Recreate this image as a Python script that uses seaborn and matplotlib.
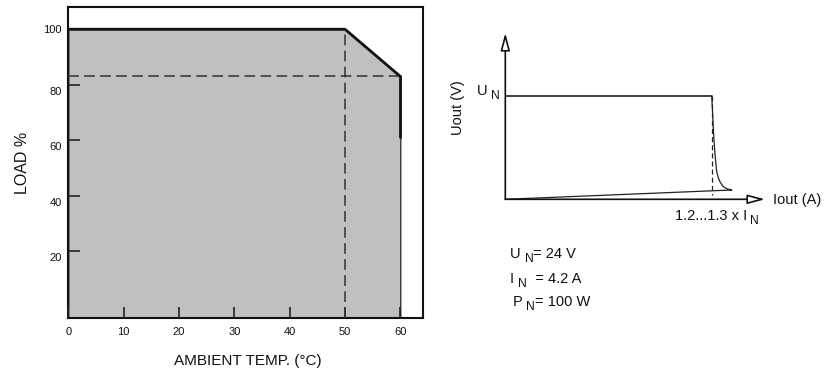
import matplotlib
matplotlib.use("Agg")
import matplotlib.pyplot as plt
import matplotlib.transforms as mtransforms
import seaborn as sns
import pandas as pd

# ---------------- data ----------------
# Derating curve (left)
temp_c = [0, 50, 60]
load_pct = [100, 100, 83]
load_tail_temp = [60, 60]
load_tail_pct = [83, 61]
x_ticks = [0, 10, 20, 30, 40, 50, 60]
y_ticks = [20, 40, 60, 80, 100]

# Output characteristic (right), in units of I_N and U_N
i_norm = [0, 1.25, 1.255, 1.262, 1.27, 1.28, 1.29, 1.30, 1.32, 1.345, 1.371, 0]
u_norm = [1.0, 1.0, 0.86, 0.62, 0.44, 0.27, 0.21, 0.17, 0.122, 0.10, 0.09, 0.0]
i_limit = 1.25
u_limit_low = 0.04
specs = [("U", "N", "= 24 V"), ("I", "N", "  = 4.2 A"), ("P", "N", "= 100 W")]

# ---------------- style ----------------
sns.set_style("white")
plt.rcParams["font.family"] = ["Liberation Sans", "DejaVu Sans"]
plt.rcParams["mathtext.fontset"] = "custom"
plt.rcParams["mathtext.rm"] = "Liberation Sans"

fig = plt.figure(figsize=(8.4, 3.83), dpi=100)
fig.patch.set_facecolor("white")

# ---------------- left chart ----------------
ax = fig.add_axes([68.3 / 840, (383 - 317.7) / 383, (423 - 68.3) / 840, (317.7 - 7.3) / 383])
ax.set_axisbelow(False)
ax.set_xlim(0, 64.1)
ax.set_ylim(-3.93, 107.9)
ybot = ax.get_ylim()[0]
ax.fill_between(temp_c, load_pct, ybot, color="#c0c0c0", edgecolor="#222222", linewidth=0.9, zorder=1)
df = pd.DataFrame({"t": temp_c, "l": load_pct})
sns.lineplot(data=df, x="t", y="l", ax=ax, color="#111111", linewidth=2.0, sort=False, estimator=None, zorder=4)
sns.lineplot(x=load_tail_temp, y=load_tail_pct, ax=ax, color="#111111", linewidth=2.0, sort=False, estimator=None, zorder=4)
ax.axvline(temp_c[1], ymin=0, ymax=(load_pct[1] - ybot) / (107.9 - ybot), color="#333333",
           linewidth=1.1, dashes=(7, 3.5), zorder=3)
ax.plot([0, temp_c[2]], [load_pct[2], load_pct[2]], color="#333333", linewidth=1.1, dashes=(7, 3.5), zorder=3)

ax.set_xticks(x_ticks)
ax.set_yticks(y_ticks)
ax.tick_params(axis="both", direction="in", colors="#222222", labelcolor="#111111", labelsize=8,
               bottom=True, left=True, top=False, right=False)
ax.tick_params(axis="x", length=8, width=1.2, pad=7)
ax.tick_params(axis="y", length=8.5, width=1.2, pad=4.5)
# the printed labels 20..80 sit a little below their ticks in the reference
shift = mtransforms.ScaledTranslation(0, -6 / 100, fig.dpi_scale_trans)
for lab, v in zip(ax.get_yticklabels(), y_ticks):
    if v != 100:
        lab.set_transform(lab.get_transform() + shift)
for s in ax.spines.values():
    s.set_visible(True)
    s.set_color("#111111")
    s.set_linewidth(1.5)
ax.set_xlabel("AMBIENT TEMP. (°C)", fontsize=11, color="#111111")
ax.set_ylabel("LOAD %", fontsize=11.5, color="#111111")
ax.xaxis.set_label_coords(0.507, -0.117)
ax.yaxis.set_label_coords(-0.108, 0.5)
ax.grid(False)

# ---------------- right chart ----------------
ax2 = fig.add_axes([505.3 / 840, (383 - 199.3) / 383, 1.6 * 165.1 / 840, 1.7 * 103.3 / 383])
ax2.set_xlim(0, 1.6)
ax2.set_ylim(0, 1.7)
ax2.set_axis_off()

sns.lineplot(x=i_norm[:2], y=u_norm[:2], ax=ax2, color="#222222", linewidth=1.2, sort=False, estimator=None)
sns.lineplot(x=i_norm[1:], y=u_norm[1:], ax=ax2, color="#222222", linewidth=0.9, sort=False, estimator=None)
ax2.plot([i_limit, i_limit], [u_norm[1], u_limit_low], color="#222222", linewidth=0.9, dashes=(4, 2.5))

arrow_kw = dict(arrowstyle="-|>,head_length=1.05,head_width=0.28", fc="white", ec="#111111",
                lw=1.2, shrinkA=0, shrinkB=0)
ax2.annotate("", xy=(0, 1.61), xytext=(0, 0), arrowprops=arrow_kw, annotation_clip=False)
ax2.annotate("", xy=(1.573, 0), xytext=(0, 0), arrowprops=arrow_kw, annotation_clip=False)

tc = "#111111"
sub_scale = 0.82


def sub_text(x, y, main, sub, rest, size, gap=0.0):
    """Draw main text with a lowered subscript and trailing text (reference style)."""
    t1 = ax2.text(x, y, main, ha="left", va="baseline", fontsize=size, color=tc, clip_on=False)
    fig.canvas.draw()
    bb = t1.get_window_extent()
    inv = ax2.transData.inverted()
    x1 = inv.transform((bb.x1 + 4 + gap, 0))[0]
    t2 = ax2.text(x1, y, sub, ha="left", va="baseline", fontsize=size * sub_scale, color=tc, clip_on=False,
                  transform=ax2.transData + mtransforms.ScaledTranslation(0, -4 / 100, fig.dpi_scale_trans))
    fig.canvas.draw()
    bb2 = t2.get_window_extent()
    x2 = inv.transform((bb2.x1, 0))[0]
    if rest:
        ax2.text(x2, y, rest, ha="left", va="baseline", fontsize=size, color=tc, clip_on=False)


ax2.text(-0.287, 0.884, "Uout (V)", rotation=90, ha="center", va="center", fontsize=10.5, color=tc, clip_on=False)
sub_text(-0.175, 1.01, "U", "N", "", 10.5)
ax2.text(1.621, -0.007, "Iout (A)", ha="left", va="center", fontsize=10.5, color=tc, clip_on=False)
sub_text(1.027, -0.205, "1.2...1.3 x I", "N", "", 10.5, gap=-1)

rows_u = [-0.566, -0.806, -1.031]
rows_x = [0.028, 0.028, 0.045]
for (a, sub, rest), yy, xx in zip(specs, rows_u, rows_x):
    sub_text(xx, yy, a, sub, rest, 10.5)

fig.savefig("out.png", dpi=100, facecolor="white")
